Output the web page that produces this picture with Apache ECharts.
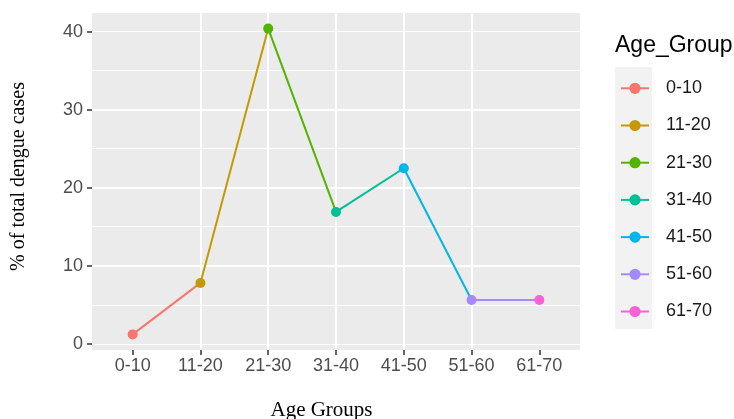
<!DOCTYPE html>
<html><head><meta charset="utf-8">
<script src="https://cdn.jsdelivr.net/npm/echarts@6/dist/echarts.min.js"></script>
<style>html,body{margin:0;padding:0;background:#fff}#c{width:734px;height:419px}</style>
</head><body><div id="c"></div>
<script>
const categories = ['0-10','11-20','21-30','31-40','41-50','51-60','61-70'];
const values = [1.2, 7.8, 40.4, 16.9, 22.5, 5.6, 5.6];
const colors = ['#F8766D','#C49A00','#53B400','#00C094','#00B6EB','#A58AFF','#FB61D7'];
const yTicks = [0, 10, 20, 30, 40];
const xTitle = 'Age Groups';
const yTitle = '% of total dengue cases';
const legendTitle = 'Age_Group';

const SANS = '"Liberation Sans", Arial, sans-serif';
const SERIF = '"Liberation Serif", "Times New Roman", serif';
const catIdx = categories.map((c, i) => i);

const series = categories.map((name, i) => {
  const data = [[i, values[i]]];
  if (i + 1 < values.length) data.push({ value: [i + 1, values[i + 1]], symbol: 'none' });
  return {
    name, type: 'line', data,
    color: colors[i],
    symbol: 'circle', symbolSize: 10, showAllSymbol: true,
    lineStyle: { width: 2, color: colors[i] },
    itemStyle: { color: colors[i] },
    emphasis: { disabled: true },
    z: 2
  };
});

const chart = echarts.init(document.getElementById('c'), null, { renderer: 'canvas' });
chart.setOption({
  animation: false,
  backgroundColor: '#ffffff',
  grid: { left: 92, right: 154, top: 13, bottom: 69, show: true, backgroundColor: '#EBEBEB', borderWidth: 0, containLabel: false },
  xAxis: {
    type: 'value', min: -0.6, max: 6.6, minInterval: 1, maxInterval: 1,
    axisLine: { show: false, onZero: false },
    axisTick: { show: true, length: 5, lineStyle: { color: '#333333', width: 1.5 }, customValues: catIdx },
    axisLabel: { customValues: catIdx, formatter: v => categories[Math.round(v)] || '', fontSize: 18, color: '#4D4D4D', margin: 7, fontFamily: SANS },
    splitLine: { show: true, showMinLine: false, showMaxLine: false, lineStyle: { color: '#ffffff', width: 2 } }
  },
  yAxis: [{
    type: 'value', min: -0.8, max: 42.4, minInterval: 10, maxInterval: 10,
    axisLine: { show: false, onZero: false },
    axisTick: { show: true, length: 5, lineStyle: { color: '#333333', width: 1.5 }, customValues: yTicks },
    axisLabel: { customValues: yTicks, fontSize: 18, color: '#4D4D4D', margin: 9, fontFamily: SANS },
    splitLine: { show: true, showMinLine: false, showMaxLine: false, lineStyle: { color: '#ffffff', width: 2 } }
  }, {
    type: 'value', min: -0.8, max: 42.4, minInterval: 5, maxInterval: 5,
    position: 'left',
    axisLine: { show: false, onZero: false }, axisTick: { show: false }, axisLabel: { show: false },
    splitLine: { show: true, showMinLine: false, showMaxLine: false, lineStyle: { color: '#ffffff', width: 1 } }
  }],
  legend: {
    orient: 'vertical', left: 620, top: 79.3, padding: 0,
    itemWidth: 28, itemHeight: 14, itemGap: 19.2,
    selectedMode: false,
    textStyle: { fontSize: 18, color: '#1A1A1A', fontFamily: SANS, padding: [0, 0, 0, 12] },
    data: categories
  },
  graphic: [
    { type: 'rect', shape: { x: 615, y: 67, width: 37, height: 262 }, style: { fill: '#F2F2F2' }, z: -1, silent: true },
    { type: 'text', x: 615, y: 45.5, style: { text: legendTitle, fontSize: 23, fontFamily: SANS, fill: '#000', align: 'left', verticalAlign: 'middle' }, silent: true },
    { type: 'text', x: 321.5, y: 410, style: { text: xTitle, fontSize: 21, fontFamily: SERIF, fill: '#000', align: 'center', verticalAlign: 'middle' }, silent: true },
    { type: 'text', x: 19, y: 176.5, rotation: Math.PI / 2, style: { text: yTitle, fontSize: 20, fontFamily: SERIF, fill: '#000', align: 'center', verticalAlign: 'middle' }, silent: true }
  ],
  series
});
</script></body></html>
